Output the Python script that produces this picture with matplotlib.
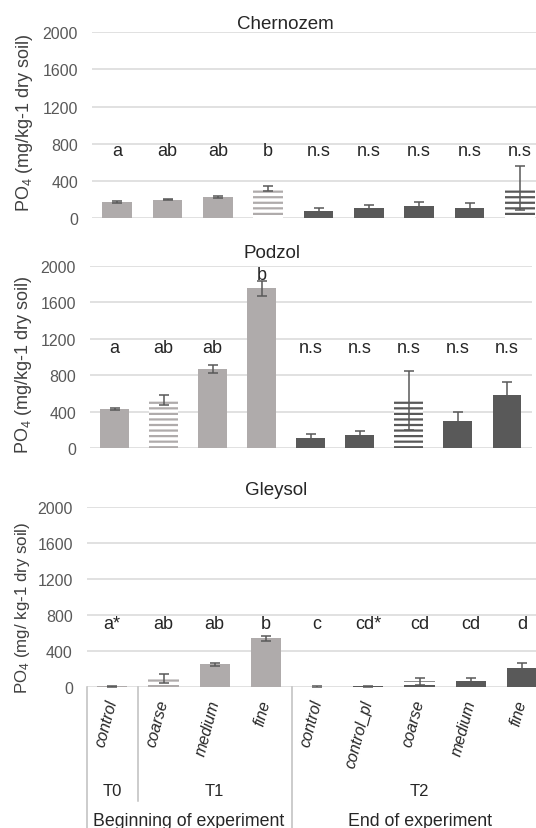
import numpy as np
import matplotlib
matplotlib.use('Agg')
import matplotlib.pyplot as plt
from matplotlib import transforms

# Data
categories = ['control', 'coarse', 'medium', 'fine',
              'control', 'control_pl', 'coarse', 'medium', 'fine']
stages = ['T0', 'T1', 'T2']
periods = ['Beginning of experiment', 'End of experiment']
soils = ['Chernozem', 'Podzol', 'Gleysol']

chernozem_mean = [172, 197, 225, 318, 75, 105, 125, 110, 320]
chernozem_err = [12, 8, 10, 28, 35, 30, 45, 50, 240]
chernozem_letters = ['a', 'ab', 'ab', 'b', 'n.s', 'n.s', 'n.s', 'n.s', 'n.s']

podzol_mean = [428, 527, 870, 1752, 106, 143, 523, 295, 581]
podzol_err = [15, 58, 42, 85, 45, 40, 325, 100, 147]
podzol_letters = ['a', 'ab', 'ab', 'b', 'n.s', 'n.s', 'n.s', 'n.s', 'n.s']

gleysol_mean = [10, 95, 255, 543, 5, 12, 65, 72, 210]
gleysol_err = [5, 50, 18, 25, 8, 5, 40, 35, 55]
gleysol_letters = ['a*', 'ab', 'ab', 'b', 'c', 'cd*', 'cd', 'cd', 'd']

# Styling
LIGHT = '#AFABAB'
DARK = '#595959'
GRID = '#D9D9D9'
TXT = '#262626'

plt.rcParams['font.family'] = ['Liberation Sans', 'DejaVu Sans']
plt.rcParams['mathtext.default'] = 'regular'
plt.rcParams['hatch.linewidth'] = 1.6

W, H = 536, 829
fig = plt.figure(figsize=(W / 100, H / 100), dpi=100)


def px_axes(left, right, top, bottom):
    # pixel box -> figure fraction axes
    return fig.add_axes([left / W, 1 - bottom / H, (right - left) / W, (bottom - top) / H])


panels = [
    dict(name=soils[0], mean=chernozem_mean, err=chernozem_err, letters=chernozem_letters,
         box=(92, 545, 33.3, 218.8), hatched=(3, 8), letter_y=677,
         ylabel='PO$_4$ (mg/kg-1 dry soil)', ylab_pos=(25, 122.5), ylab_size=13,
         title_pos=(285, 28.7)),
    dict(name=soils[1], mean=podzol_mean, err=podzol_err, letters=podzol_letters,
         box=(90, 531.5, 266.7, 449), hatched=(1, 6), letter_y=1050,
         ylabel='PO$_4$ (mg/kg-1 dry soil)', ylab_pos=(24, 365), ylab_size=13,
         title_pos=(272, 258.3)),
    dict(name=soils[2], mean=gleysol_mean, err=gleysol_err, letters=gleysol_letters,
         box=(86.7, 547.5, 507.7, 688.3), hatched=(1, 6), letter_y=653,
         ylabel='PO$_4$ (mg/ kg-1 dry soil)', ylab_pos=(23, 608), ylab_size=12.2,
         title_pos=(276, 495)),
]

x = np.arange(len(categories))
bar_colors = [LIGHT] * 4 + [DARK] * 5
width = 0.59

for k, p in enumerate(panels):
    ax = px_axes(*p['box'])
    ax.set_axisbelow(True)
    for i in x:
        if i in p['hatched']:
            ax.bar(i, p['mean'][i], width, facecolor='white', edgecolor=bar_colors[i],
                   hatch='---', linewidth=0, zorder=2)
        else:
            ax.bar(i, p['mean'][i], width, color=bar_colors[i], linewidth=0, zorder=2)
    ax.errorbar(x, p['mean'], yerr=p['err'], fmt='none', ecolor=DARK,
                elinewidth=1.1, capsize=3.6, capthick=1.1, zorder=3)

    # significance letters
    for i in x:
        y = max(p['letter_y'], p['mean'][i] + p['err'][i] + 15)
        ax.text(i, y, p['letters'][i], ha='center', va='baseline',
                fontsize=13, color=TXT)

    ax.set_xlim(-0.5, 8.5)
    ax.set_ylim(0, 2000)
    ax.set_yticks(range(0, 2001, 400))
    ax.yaxis.grid(True, color=GRID, linewidth=1.1)
    for s in ax.spines.values():
        s.set_visible(False)
    ax.tick_params(axis='y', length=0, pad=10, labelsize=11.5, labelcolor=DARK)

    fig.text(p['title_pos'][0] / W, 1 - p['title_pos'][1] / H, p['name'],
             ha='center', va='baseline', fontsize=13.5, color=TXT)
    fig.text(p['ylab_pos'][0] / W, 1 - p['ylab_pos'][1] / H, p['ylabel'],
             rotation=90, ha='center', va='center', fontsize=p['ylab_size'], color='#404040')

    if k < 2:
        ax.set_xticks([])
    else:
        ax.set_xticks(x)
        ax.set_xticklabels(categories, rotation=75, ha='right', va='center',
                           rotation_mode='anchor', fontsize=11.5, style='italic', color=TXT)
        ax.tick_params(axis='x', length=0, pad=9)
        # multi-level category separators
        trans = transforms.blended_transform_factory(ax.transData, ax.transAxes)
        for xs, y_end in [(-0.5, -0.85), (0.5, -0.63), (3.5, -0.85)]:
            ax.plot([xs, xs], [0, y_end], color='#BFBFBF', linewidth=1.1,
                    transform=trans, clip_on=False)
        for xs, lab in zip([0, 2, 6], stages):
            ax.text(xs, -0.5725, lab, transform=trans, ha='center', va='center',
                    fontsize=12, color=TXT)
        for xs, lab in zip([1.5, 6], periods):
            ax.text(xs, -0.739, lab, transform=trans, ha='center', va='center',
                    fontsize=12.8, color=TXT)

fig.savefig('out.png', dpi=100)
